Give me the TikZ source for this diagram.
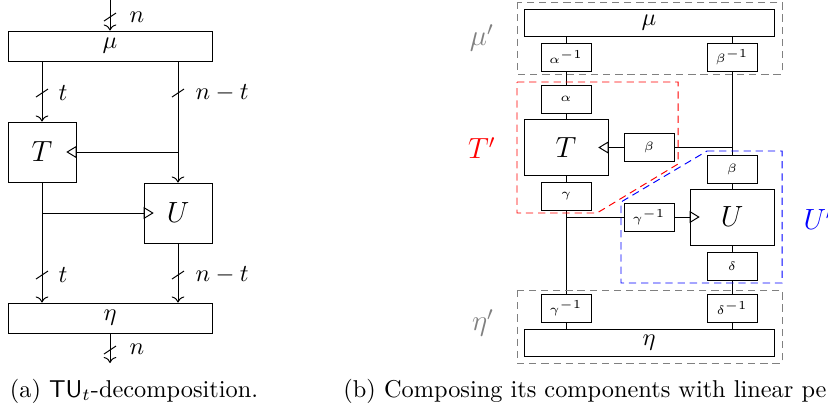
\documentclass[tikz,border=0pt]{standalone}
\usetikzlibrary{arrows.meta,positioning}
\newcommand{\pxu}{0.411pt}

\begin{document}
\begin{tikzpicture}[
  x=\pxu, y=-\pxu,
  bar/.style={rectangle, draw, minimum width=204*\pxu, minimum height=30*\pxu, inner sep=0pt},
  rbar/.style={bar, minimum width=250*\pxu, minimum height=27*\pxu},
  blk/.style={rectangle, draw, minimum width=68*\pxu, minimum height=60*\pxu, inner sep=0pt, font=\large},
  rblk/.style={blk, minimum width=84*\pxu, minimum height=56*\pxu},
  perm/.style={rectangle, draw, minimum width=50*\pxu, minimum height=28*\pxu, inner sep=0pt, font=\tiny},
  wire/.style={-{To}},
  clk/.style={-{Triangle[open, length=4.2pt, width=5pt]}, shorten >=-4.2pt},
  region/.style={dash pattern=on 3pt off 2pt},
  tag/.style={font=\large},
]
  \useasboundingbox (0,0) rectangle (828,411);

  % (a) decomposition
  \node[bar] (mu) at (110,46) {$\mu$};
  \node[blk] (T) at (42,152) {$T$};
  \node[blk] (U) at (178,213) {$U$};
  \node[bar] (eta) at (110,318) {$\eta$};
  \coordinate (in) at (110,0);
  \coordinate (out) at (110,363);

  \draw[wire] (in) -- (mu.north);
  \draw[wire] (mu.south -| T) -- (T.north);
  \draw[wire] (mu.south -| U) -- (U.north);
  \draw[clk] (U |- T) -- (T.east);
  \draw[clk] (T |- U) -- (U.west);
  \draw[wire] (T.south) -- (T |- eta.north);
  \draw[wire] (U.south) -- (U |- eta.north);
  \draw[wire] (eta.south) -- (out);

  \foreach \x/\y in {110/17, 42/93, 178/93, 42/275, 178/275, 110/350}
    \draw (\x-6,\y+4) -- (\x+6,\y-4);

  \node[right] (lin) at (121,17) {$n$};
  \node[right] (lt1) at (50,93) {$t$};
  \node[right] (lnt1) at (187,93) {$n-t$};
  \node[right] (lt2) at (50,275) {$t$};
  \node[right] (lnt2) at (187,275) {$n-t$};
  \node[right] (lout) at (121,349) {$n$};

  \node[anchor=base] (capa) at (134,397) {(a) $\mathsf{TU}_t$-decomposition.};

  % (b) composed with linear permutations
  \node[rbar] (mu2) at (649,22.5) {$\mu$};
  \node[perm] (ai) at (566,57) {$\alpha^{-1}$};
  \node[perm] (bi) at (732,57) {$\beta^{-1}$};
  \node[perm] (a) at (566,99) {$\alpha$};
  \node[rblk] (T2) at (566,147.5) {$T$};
  \node[perm] (b1) at (649,147.5) {$\beta$};
  \node[perm] (g) at (566,196) {$\gamma$};
  \node[perm] (b2) at (732,169) {$\beta$};
  \node[rblk] (U2) at (732,217) {$U$};
  \node[perm] (gi) at (649,217) {$\gamma^{-1}$};
  \node[perm] (d) at (732,266) {$\delta$};
  \node[perm] (gi2) at (566,308) {$\gamma^{-1}$};
  \node[perm] (di) at (732,308) {$\delta^{-1}$};
  \node[rbar] (eta2) at (649,342.5) {$\eta$};

  \draw (mu2.south -| ai) -- (ai.north);
  \draw (ai.south) -- (a.north);
  \draw (a.south) -- (T2.north);
  \draw (T2.south) -- (g.north);
  \draw (g.south) -- (gi2.north);
  \draw (gi2.south) -- (eta2.north -| gi2);
  \draw (mu2.south -| bi) -- (bi.north);
  \draw (bi.south) -- (b2.north);
  \draw (bi |- b1) -- (b1.east);
  \draw[clk] (b1.west) -- (T2.east);
  \draw (g |- gi) -- (gi.west);
  \draw[clk] (gi.east) -- (U2.west);
  \draw (b2.south) -- (U2.north);
  \draw (U2.south) -- (d.north);
  \draw (d.south) -- (di.north);
  \draw (di.south) -- (eta2.north -| di);

  \draw[region, gray] (517,2) rectangle (782,74);
  \draw[region, red] (517,82) -- (678,82) -- (678,164) -- (597,213) -- (517,213) -- cycle;
  \draw[region, blue] (707,151) -- (782,151) -- (782,283) -- (621,283) -- (621,202) -- cycle;
  \draw[region, gray] (517,290) rectangle (782,363);

  \node[tag, gray] (lmu) at (482,38) {$\mu'$};
  \node[tag, red] (lT) at (482,148) {$T'$};
  \node[tag, blue, anchor=west, inner sep=0pt] (lU) at (803,219) {$U'$};
  \node[tag, gray] (leta) at (483,323) {$\eta'$};

  \node[anchor=base west, inner sep=0pt] (capb) at (343,397) {(b) Composing its components with linear pe};
\end{tikzpicture}
\end{document}
